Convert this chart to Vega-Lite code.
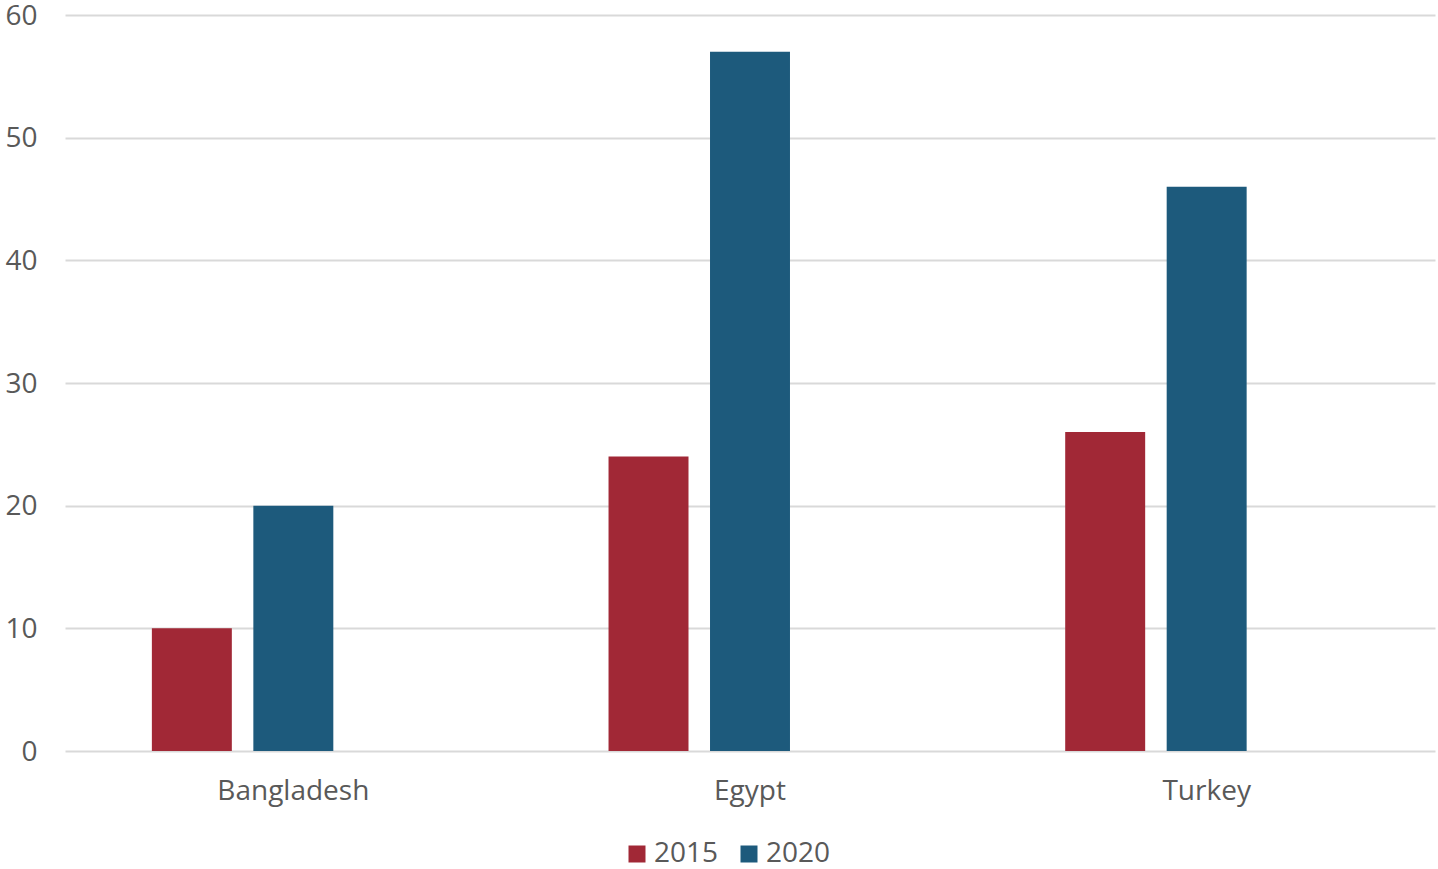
{
  "$schema": "https://vega.github.io/schema/vega-lite/v6.json",
  "width": 1370,
  "height": 736,
  "autosize": {"type": "none"},
  "padding": {"left": 65, "top": 15, "right": 3, "bottom": 118},
  "background": "white",
  "data": {
    "values": [
      {"country": "Bangladesh", "year": "2015", "value": 10},
      {"country": "Bangladesh", "year": "2020", "value": 20},
      {"country": "Egypt", "year": "2015", "value": 24},
      {"country": "Egypt", "year": "2020", "value": 57},
      {"country": "Turkey", "year": "2015", "value": 26},
      {"country": "Turkey", "year": "2020", "value": 46}
    ]
  },
  "mark": {"type": "bar"},
  "encoding": {
    "x": {
      "field": "country",
      "type": "nominal",
      "scale": {"paddingInner": 0, "paddingOuter": 0},
      "axis": {
        "title": null,
        "labelAngle": 0,
        "domain": false,
        "ticks": false,
        "labelPadding": 26,
        "labelFont": "Open Sans",
        "labelFontSize": 28,
        "labelColor": "#595959"
      }
    },
    "xOffset": {
      "field": "year",
      "type": "nominal",
      "scale": {"domain": ["2015", "2020", "2025"], "paddingInner": 0.212, "paddingOuter": 0.856}
    },
    "y": {
      "field": "value",
      "type": "quantitative",
      "scale": {"domain": [0, 60], "nice": false},
      "axis": {
        "title": null,
        "values": [0, 10, 20, 30, 40, 50, 60],
        "domain": false,
        "ticks": false,
        "labelPadding": 28,
        "labelOffset": 1,
        "labelFont": "Open Sans",
        "labelFontSize": 28,
        "labelColor": "#595959",
        "gridColor": "#D9D9D9",
        "gridWidth": 2
      }
    },
    "color": {
      "field": "year",
      "type": "nominal",
      "scale": {"domain": ["2015", "2020"], "range": ["#A12836", "#1D5A7C"]},
      "legend": {
        "title": null,
        "orient": "none",
        "direction": "horizontal",
        "legendX": 558,
        "legendY": 825,
        "symbolType": "square",
        "symbolSize": 289,
        "symbolStrokeWidth": 0,
        "symbolOpacity": 1,
        "labelFont": "Open Sans",
        "labelFontSize": 28,
        "labelColor": "#595959",
        "labelOffset": 3,
        "columnPadding": 16
      }
    }
  },
  "config": {"view": {"stroke": null}}
}
